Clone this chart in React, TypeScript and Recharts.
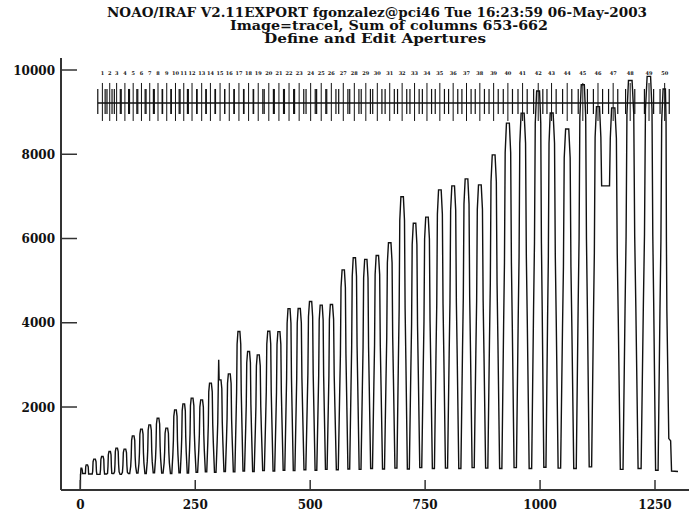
import { LineChart, Line, XAxis, YAxis, ReferenceLine, ReferenceDot } from "recharts";

// fibre peaks (pixel position along the slit, summed counts)
const PEAK_X = [
  2, 14, 31, 48, 64, 79, 97, 115, 133, 151, 169, 188, 207, 225, 243, 264, 283, 304, 324, 345,
  366, 387, 410, 432, 454, 476, 501, 524, 546, 572, 596, 621, 646, 673, 700, 727, 754, 782, 811, 840,
  869, 899, 930, 962, 996, 1025, 1059, 1093, 1126, 1159, 1196, 1237, 1271,
];
const PEAK_Y = [
  548, 627, 762, 824, 943, 1023, 1000, 1315, 1474, 1576, 1735, 1498, 1932, 2075, 2210, 2170, 2566, 2645, 2787, 3792,
  3317, 3238, 3800, 3790, 4335, 4340, 4504, 4418, 4435, 5256, 5545, 5505, 5595, 5898, 6990, 6364, 6507, 7155, 7250, 7416,
  7274, 7986, 8739, 8976, 9500, 8980, 8600, 9650, 9130, 9100, 9750, 9850, 9550,
];
// minimum between fibre i and i+1
const VALLEY_Y = [
  420, 410, 400, 410, 420, 400, 420, 430, 420, 440, 430, 420, 440, 430, 450, 460, 450, 470, 460, 480,
  470, 490, 480, 500, 490, 510, 500, 520, 510, 530, 520, 540, 530, 550, 530, 560, 540, 550, 540, 560,
  550, 540, 560, 540, 570, 550, 540, 580, 7250, 520, 540, 500,
];
// single-pixel spike (cosmic ray) on fibre 18
const SPIKES = [{ x: 301, y: 3120 }];
const LEAD_IN = [
  { x: 0, y: 40 },
  { x: 0.4, y: 400 },
];
const TAIL = [
  { x: 1280, y: 1250 },
  { x: 1284, y: 1200 },
  { x: 1286, y: 480 },
  { x: 1300, y: 470 },
];

const X_TICKS = [0, 250, 500, 750, 1000, 1250];
const Y_TICKS = [2000, 4000, 6000, 8000, 10000];

// apertures sit on fibres 4..53
const APERTURES = PEAK_X.slice(3);
const AP_HALF = 10;

const TITLE = [
  "NOAO/IRAF V2.11EXPORT fgonzalez@pci46 Tue 16:23:59 06-May-2003",
  "Image=tracel, Sum of columns 653-662",
  "Define and Edit Apertures",
];

const INK = "#111";
const FRAME = "#333";
const FONT = "'DejaVu Serif', serif";

// profile of one fibre: [offset in units of spacing, fraction of peak]
const SIDE = [
  [0.3, 0.45],
  [0.24, 0.62],
  [0.19, 0.92],
  [0.1, 1],
];

function buildTrace() {
  const pts = [...LEAD_IN];
  const n = PEAK_X.length;
  PEAK_X.forEach((c, i) => {
    const p = PEAK_Y[i];
    const sl = i > 0 ? c - PEAK_X[i - 1] : 5;
    const sr = i < n - 1 ? PEAK_X[i + 1] - c : 16;
    const vl = i > 0 ? VALLEY_Y[i - 1] : 400;
    const vr = i < VALLEY_Y.length ? VALLEY_Y[i] : 480;
    SIDE.forEach(([o, f]) => pts.push({ x: c - o * sl, y: Math.max(f * p, vl) }));
    [...SIDE].reverse().forEach(([o, f]) => pts.push({ x: c + o * sr, y: Math.max(f * p, vr) }));
    if (i < VALLEY_Y.length) {
      const m = (c + PEAK_X[i + 1]) / 2;
      pts.push({ x: m - 0.08 * sr, y: vr }, { x: m + 0.08 * sr, y: vr });
    }
  });
  pts.push(...SPIKES, ...TAIL);
  return pts.filter((p) => p.x >= 0).sort((a, b) => a.x - b.x);
}

/* eslint-disable @typescript-eslint/no-explicit-any */
function BottomTick({ x, y, payload }: any) {
  return (
    <g>
      <line x1={x} x2={x} y1={y} y2={y - 10} stroke={FRAME} strokeWidth={1.5} />
      <text x={x} y={y + 19} textAnchor="middle" fontFamily={FONT} fontWeight="bold" fontSize={12} fill={INK}>
        {payload.value}
      </text>
    </g>
  );
}

function TopTick({ x, y }: any) {
  return <line x1={x} x2={x} y1={y} y2={y + 9} stroke={FRAME} strokeWidth={1.5} />;
}

function LeftTick({ x, y, payload }: any) {
  return (
    <g>
      <line x1={x} x2={x + 16} y1={y} y2={y} stroke={FRAME} strokeWidth={1.5} />
      <text x={x - 6} y={y + 4.5} textAnchor="end" fontFamily={FONT} fontWeight="bold" fontSize={12} fill={INK}>
        {payload.value}
      </text>
    </g>
  );
}

function RightTick({ x, y }: any) {
  return <line x1={x} x2={x - 16} y1={y} y2={y} stroke={FRAME} strokeWidth={1.5} />;
}

export default function App() {
  const data = buildTrace();
  const axisLine = { stroke: FRAME, strokeWidth: 2 };
  const first = APERTURES[0];
  const last = APERTURES[APERTURES.length - 1];

  return (
    <div style={{ position: "fixed", left: 0, top: 0, width: 689, height: 513, overflow: "hidden", background: "#fff" }}>
      <svg width={689} height={60} style={{ position: "absolute", left: 0, top: 0 }}>
        <text x={377} y={17} textAnchor="middle" textLength={540} lengthAdjust="spacingAndGlyphs"
          fontFamily={FONT} fontWeight="bold" fontSize={12} fill={INK}>{TITLE[0]}</text>
        <text x={389} y={30} textAnchor="middle" textLength={318} lengthAdjust="spacingAndGlyphs"
          fontFamily={FONT} fontWeight="bold" fontSize={12} fill={INK}>{TITLE[1]}</text>
        <text x={375} y={43} textAnchor="middle" textLength={222} lengthAdjust="spacingAndGlyphs"
          fontFamily={FONT} fontWeight="bold" fontSize={12} fill={INK}>{TITLE[2]}</text>
      </svg>
      <div style={{ position: "absolute", left: 0, top: 0 }}>
        <LineChart width={700} height={513} data={data} margin={{ top: 58, right: 5, bottom: 0, left: 0 }}>
          <XAxis xAxisId="b" dataKey="x" type="number" domain={[-42, 1337]} ticks={X_TICKS} interval={0}
            allowDataOverflow height={23} tickLine={false} tickSize={0} tickMargin={0} tick={BottomTick} axisLine={axisLine} />
          <XAxis xAxisId="t" orientation="top" dataKey="x" type="number" domain={[-42, 1337]} ticks={X_TICKS} interval={0}
            allowDataOverflow height={0} tickLine={false} tickSize={0} tickMargin={0} tick={TopTick} axisLine={axisLine} />
          <YAxis yAxisId="l" type="number" domain={[30, 10285]} ticks={Y_TICKS} interval={0} allowDataOverflow
            width={61} tickLine={false} tickSize={0} tickMargin={0} tick={LeftTick} axisLine={axisLine} />
          <YAxis yAxisId="r" orientation="right" type="number" domain={[30, 10285]} ticks={Y_TICKS} interval={0}
            allowDataOverflow width={0} tickLine={false} tickSize={0} tickMargin={0} tick={RightTick} axisLine={axisLine} />

          <Line xAxisId="b" yAxisId="l" type="linear" dataKey="y" stroke={INK} strokeWidth={1.4} dot={false}
            isAnimationActive={false} />

          <ReferenceLine xAxisId="b" yAxisId="l" stroke={INK} strokeWidth={1.4}
            segment={[{ x: first - AP_HALF, y: 9216 }, { x: last + AP_HALF, y: 9216 }]} />
          {APERTURES.map((c, i) => (
            <ReferenceLine key={`c${i}`} xAxisId="b" yAxisId="l" stroke={INK} strokeWidth={1}
              segment={[{ x: c, y: 9692 }, { x: c, y: 8790 }]} />
          ))}
          {APERTURES.map((c, i) => (
            <ReferenceLine key={`lo${i}`} xAxisId="b" yAxisId="l" stroke={INK} strokeWidth={1.2}
              segment={[{ x: c - AP_HALF, y: 9550 }, { x: c - AP_HALF, y: 8956 }]} />
          ))}
          {APERTURES.map((c, i) => (
            <ReferenceLine key={`hi${i}`} xAxisId="b" yAxisId="l" stroke={INK} strokeWidth={1.2}
              segment={[{ x: c + AP_HALF, y: 9550 }, { x: c + AP_HALF, y: 8956 }]} />
          ))}
          {APERTURES.map((c, i) => (
            <ReferenceDot key={`n${i}`} xAxisId="b" yAxisId="l" x={c} y={9930} r={0}
              shape={(p: any) => (
                <text x={p.cx} y={p.cy + 2} textAnchor="middle" fontFamily={FONT} fontWeight="bold" fontSize={5} fill={INK}>
                  {i + 1}
                </text>
              )} />
          ))}
        </LineChart>
      </div>
    </div>
  );
}
